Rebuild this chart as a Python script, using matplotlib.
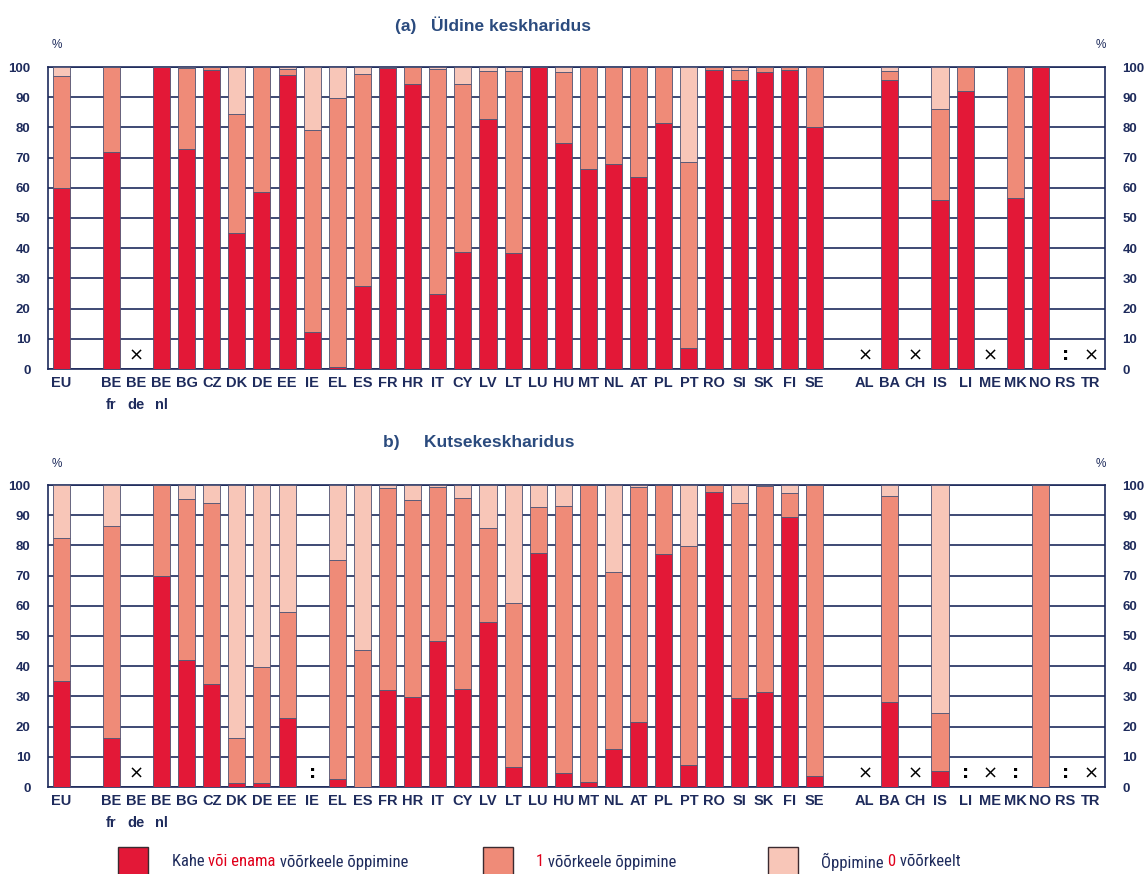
import numpy as np
import matplotlib
matplotlib.use("Agg")
import matplotlib.pyplot as plt
import matplotlib.font_manager as fm
from matplotlib.patches import Rectangle

# ---------------- data ----------------
categories = ['EU', '', 'BE\nfr', 'BE\nde', 'BE\nnl', 'BG', 'CZ', 'DK', 'DE', 'EE', 'IE', 'EL',
              'ES', 'FR', 'HR', 'IT', 'CY', 'LV', 'LT', 'LU', 'HU', 'MT', 'NL', 'AT', 'PL',
              'PT', 'RO', 'SI', 'SK', 'FI', 'SE', '', 'AL', 'BA', 'CH', 'IS', 'LI', 'ME',
              'MK', 'NO', 'RS', 'TR']
nan = np.nan

# (a) general secondary: two or more / one / zero foreign languages (%)
gen_two = [60, nan, 72, nan, 100, 72.7, 99, 45, 58.7, 97.5, 12.2, 0.8,
           27.4, 99.7, 94.4, 24.7, 38.9, 82.7, 38.3, 100, 74.8, 66.1, 67.9, 63.7, 81.4,
           7.0, 99.1, 95.8, 98.3, 99.1, 80, nan, nan, 95.8, nan, 55.9, 91.9, nan,
           56.5, 100, nan, nan]
gen_one = [37, nan, 28, nan, 0, 27, 1, 39.5, 41.3, 1.8, 67, 88.9,
           70.4, 0.3, 5.6, 74.6, 55.6, 16, 60.4, 0, 23.5, 33.9, 32.1, 36.3, 18.6,
           61.7, 0.9, 3.1, 1.7, 0.9, 20, nan, nan, 2.8, nan, 30.1, 8.1, nan,
           43.5, 0, nan, nan]
gen_zero = [3, nan, 0, nan, 0, 0.3, 0, 15.5, 0, 0.7, 20.8, 10.3,
            2.2, 0, 0, 0.7, 5.5, 1.3, 1.3, 0, 1.7, 0, 0, 0, 0,
            31.3, 0, 1.1, 0, 0, 0, nan, nan, 1.4, nan, 14, 0, nan,
            0, 0, nan, nan]
gen_marks = {'BE\nde': '×', 'AL': '×', 'CH': '×', 'ME': '×', 'RS': ':', 'TR': '×'}

# (b) vocational secondary
voc_two = [35, nan, 16.1, nan, 69.8, 42.1, 34, 1.4, 1.4, 22.7, nan, 2.8,
           0, 32.1, 29.9, 48.2, 32.4, 54.5, 6.6, 77.5, 4.7, 1.7, 12.5, 21.6, 77,
           7.3, 97.7, 29.6, 31.6, 89.5, 3.8, nan, nan, 28, nan, 5.2, nan, nan,
           nan, 0, nan, nan]
voc_one = [47.3, nan, 70.3, nan, 30.2, 53.1, 60.1, 14.7, 38.2, 35.2, nan, 72.5,
           45.4, 66.8, 65.1, 51.2, 63.4, 31.2, 54.3, 15.3, 88.5, 98.3, 58.6, 77.6, 23,
           72.4, 2.3, 64.6, 68.1, 8, 96.2, nan, nan, 68.3, nan, 19.2, nan, nan,
           nan, 100, nan, nan]
voc_zero = [17.7, nan, 13.6, nan, 0, 4.8, 5.9, 83.9, 60.4, 42.1, nan, 24.7,
            54.6, 1.1, 5, 0.6, 4.2, 14.3, 39.1, 7.2, 6.8, 0, 28.9, 0.8, 0,
            20.3, 0, 5.8, 0.3, 2.5, 0, nan, nan, 3.7, nan, 75.6, nan, nan,
            nan, 0, nan, nan]
voc_marks = {'BE\nde': '×', 'IE': ':', 'AL': '×', 'CH': '×', 'LI': ':', 'ME': '×',
             'MK': ':', 'RS': ':', 'TR': '×'}

yticks = list(range(0, 101, 10))
titles = ['(a)   Üldine keskharidus', 'b)     Kutsekeskharidus']
legend_parts = [
    [('Kahe ', 'navy'), ('või enama', 'red'), (' võõrkeele õppimine', 'navy')],
    [('1', 'red'), (' võõrkeele õppimine', 'navy')],
    [('Õppimine ', 'navy'), ('0', 'red'), (' võõrkeelt', 'navy')],
]

# ---------------- style ----------------
RED = '#E31837'
SALMON = '#EF8B78'
PINK = '#F8C6B8'
EDGE = '#4E5272'
NAVY = '#1E2B5C'
TITLE_C = '#2B4B7E'
LEG_RED = '#E0001B'

names = {f.name for f in fm.fontManager.ttflist}
BASE = 'Liberation Sans' if 'Liberation Sans' in names else 'DejaVu Sans'
LEG_FONT = BASE
for cand in ['Liberation Sans Narrow', 'Roboto Condensed', 'Open Sans Condensed', 'DejaVu Sans Condensed']:
    if cand in names:
        LEG_FONT = cand
        break
plt.rcParams['font.family'] = [BASE, 'DejaVu Sans']

W, H = 1145, 874
fig = plt.figure(figsize=(W / 100, H / 100), dpi=100)


def axes_px(left, top, right, bottom):
    return fig.add_axes([left / W, 1 - bottom / H, (right - left) / W, (bottom - top) / H])


def draw(ax, two, one, zero, marks):
    x = np.arange(len(categories))
    two = np.array(two, float)
    one = np.array(one, float)
    zero = np.array(zero, float)
    ok = ~np.isnan(two)
    kw = dict(width=0.68, edgecolor=EDGE, linewidth=0.6, zorder=3)
    ax.bar(x[ok], two[ok], color=RED, **kw)
    ax.bar(x[ok], one[ok], bottom=two[ok], color=SALMON, **kw)
    ax.bar(x[ok], zero[ok], bottom=two[ok] + one[ok], color=PINK, **kw)
    for i, c in enumerate(categories):
        if c in marks:
            m = marks[c]
            if m == ':':
                ax.text(i, 4.6, m, ha='center', va='center', fontsize=13, fontweight='bold',
                        color='black', zorder=4, family='DejaVu Sans')
            else:
                ax.text(i, 4.6, m, ha='center', va='center', fontsize=13,
                        color='black', zorder=4, family='DejaVu Sans')
    ax.set_xlim(-0.52, 41.57)
    ax.set_ylim(0, 100)
    ax.set_yticks(yticks)
    ax.set_yticklabels([str(v) for v in yticks])
    ax.set_xticks(x)
    ax.set_xticklabels(categories)
    ax.yaxis.grid(True, color=NAVY, linewidth=1.2, zorder=0)
    ax.set_axisbelow(True)
    for s in ax.spines.values():
        s.set_color(NAVY)
        s.set_linewidth(1.2)
    ax.tick_params(axis='y', left=False, right=False, labelleft=True, labelright=True,
                   pad=9, labelsize=9.5, labelcolor=NAVY)
    ax.tick_params(axis='x', length=0, pad=5, labelsize=10.5, labelcolor=NAVY)
    for lbl in ax.get_xticklabels() + ax.get_yticklabels():
        lbl.set_fontweight('bold')
    for lbl in ax.get_xticklabels():
        lbl.set_linespacing(1.75)
    for t in ax.yaxis.get_major_ticks():
        t.label2.set_fontweight('bold')


ax1 = axes_px(48, 67, 1105, 369)
draw(ax1, gen_two, gen_one, gen_zero, gen_marks)
ax2 = axes_px(48, 485, 1105, 787)
draw(ax2, voc_two, voc_one, voc_zero, voc_marks)

# overlay in pixel coordinates for titles, % signs and legend
ov = fig.add_axes([0, 0, 1, 1])
ov.set_xlim(0, W)
ov.set_ylim(H, 0)
ov.axis('off')

ov.text(395, 25, titles[0], ha='left', va='center', fontsize=12.5, fontweight='bold', color=TITLE_C)
ov.text(383, 443, titles[1], ha='left', va='center', fontsize=12.5, fontweight='bold', color=TITLE_C)
for y in (45, 464):
    ov.text(57, y, '%', ha='center', va='center', fontsize=8.5, color=NAVY)
    ov.text(1101, y, '%', ha='center', va='center', fontsize=8.5, color=NAVY)

sq_x = [118, 483, 768]
txt_x = [172, 536, 821]
sq_colors = [RED, SALMON, PINK]
for sx, tx, col, parts in zip(sq_x, txt_x, sq_colors, legend_parts):
    ov.add_patch(Rectangle((sx, 847), 30, 30, facecolor=col, edgecolor='#3A2A30', linewidth=1.0))
    prev = None
    for s, c in parts:
        color = NAVY if c == 'navy' else LEG_RED
        if prev is None:
            prev = ov.text(tx, 862, s, ha='left', va='center', fontsize=12, color=color,
                           family=[LEG_FONT, 'DejaVu Sans'])
        else:
            prev = ov.annotate(s, xycoords=prev, xy=(1, 0.5), ha='left', va='center',
                               fontsize=12, color=color, family=[LEG_FONT, 'DejaVu Sans'])

fig.savefig('out.png', dpi=100)
